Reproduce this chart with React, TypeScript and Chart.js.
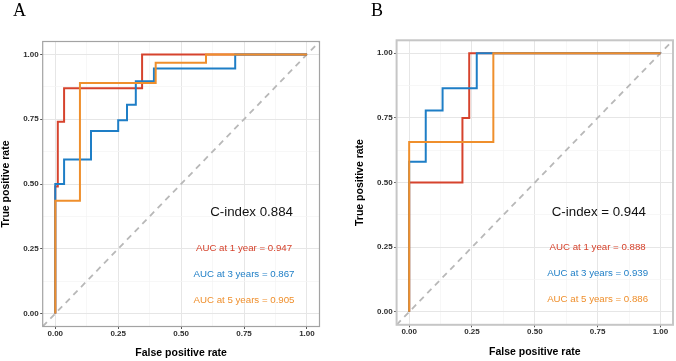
import React, { useEffect, useRef } from "react";
import { Chart, registerables } from "chart.js";

Chart.register(...registerables);

// ---- data -------------------------------------------------------------
const AXIS_MIN = -0.05;
const AXIS_MAX = 1.05;
const MAJOR_TICKS = [0, 0.25, 0.5, 0.75, 1];
const MINOR_TICKS = [0.125, 0.375, 0.625, 0.875];
const SERIES_NAMES = ["1 year", "3 years", "5 years"];
const LABEL_Y = [0.25, 0.15, 0.05];

// Panel A
const A_FPR_1Y = [0, 0, 0.01, 0.01, 0.035, 0.035, 0.345, 0.345, 1];
const A_TPR_1Y = [0, 0.49, 0.49, 0.74, 0.74, 0.87, 0.87, 1, 1];
const A_FPR_3Y = [0, 0, 0.035, 0.035, 0.142, 0.142, 0.25, 0.25, 0.285, 0.285, 0.32, 0.32, 0.392, 0.392, 0.715, 0.715, 1];
const A_TPR_3Y = [0, 0.5, 0.5, 0.595, 0.595, 0.705, 0.705, 0.746, 0.746, 0.806, 0.806, 0.897, 0.897, 0.946, 0.946, 1, 1];
const A_FPR_5Y = [0, 0, 0.098, 0.098, 0.399, 0.399, 0.599, 0.599, 1];
const A_TPR_5Y = [0, 0.435, 0.435, 0.89, 0.89, 0.968, 0.968, 1, 1];
const A_AUC = ["0.947", "0.867", "0.905"];
const A_CINDEX = "C-index 0.884";

// Panel B
const B_FPR_1Y = [0, 0, 0.212, 0.212, 0.239, 0.239, 1];
const B_TPR_1Y = [0, 0.5, 0.5, 0.75, 0.75, 1, 1];
const B_FPR_3Y = [0, 0, 0.066, 0.066, 0.133, 0.133, 0.269, 0.269, 1];
const B_TPR_3Y = [0, 0.58, 0.58, 0.779, 0.779, 0.865, 0.865, 1, 1];
const B_FPR_5Y = [0, 0, 0.335, 0.335, 1];
const B_TPR_5Y = [0, 0.657, 0.657, 1, 1];
const B_AUC = ["0.888", "0.939", "0.886"];
const B_CINDEX = "C-index = 0.944";

// ---- styling ------------------------------------------------------------
const COLORS = ["#D6432D", "#1E7EC6", "#EF8F2C"];
const SANS = "'Liberation Sans', Arial, Helvetica, sans-serif";
const SERIF = "'Liberation Serif', 'Times New Roman', serif";
const CANVAS_W = 338;
const CANVAS_H = 361;

type PanelSpec = {
  letter: string;
  letterX: number;
  letterBaseline: number;
  left: number;
  area: { left: number; right: number; top: number; bottom: number };
  yTitlePad: number;
  xTitlePad: number;
  borderColor: string;
  borderWidth: number;
  curves: { fpr: number[]; tpr: number[] }[];
  auc: string[];
  cindex: string;
  cindexX: number;
  cindexY: number;
};

const isMajor = (v: number) => Math.abs(v * 4 - Math.round(v * 4)) < 1e-6;
const allTicks = [...MAJOR_TICKS, ...MINOR_TICKS].sort((a, b) => a - b);

function axisOptions(spec: PanelSpec, horizontal: boolean) {
  return {
    type: "linear",
    min: AXIS_MIN,
    max: AXIS_MAX,
    afterBuildTicks: (scale: any) => {
      scale.ticks = allTicks.map((v) => ({ value: v }));
    },
    afterFit: (scale: any) => {
      if (horizontal) scale.height = CANVAS_H - spec.area.bottom;
      else scale.width = spec.area.left;
    },
    ticks: {
      autoSkip: false,
      maxRotation: 0,
      padding: horizontal ? 0.8 : 1.5,
      color: "#2E2E2E",
      font: { family: SANS, size: 8, weight: "bold", lineHeight: 1 },
      callback: (v: number) => (isMajor(v) ? v.toFixed(2) : ""),
    },
    grid: {
      drawTicks: true,
      tickLength: 2.5,
      tickWidth: 1,
      color: (ctx: any) => (isMajor(ctx.tick?.value ?? 0) ? "#E6E6E6" : "#F3F3F3"),
      lineWidth: (ctx: any) => (isMajor(ctx.tick?.value ?? 0) ? 1 : 0.7),
      tickColor: (ctx: any) => (isMajor(ctx.tick?.value ?? 0) ? "#555555" : "rgba(0,0,0,0)"),
    },
    border: { display: false },
    title: {
      display: true,
      text: horizontal ? "False positive rate" : "True positive rate",
      color: "#000000",
      font: { family: SANS, size: 10.5, weight: "bold", lineHeight: 1.2 },
      padding: horizontal ? { top: 0, bottom: spec.xTitlePad } : { top: spec.yTitlePad, bottom: 0 },
    },
  };
}

function panelDecor(spec: PanelSpec) {
  return {
    id: "panelDecor" + spec.letter,
    afterDatasetsDraw(chart: any) {
      const { ctx, chartArea, scales } = chart;
      ctx.save();
      // panel frame
      ctx.strokeStyle = spec.borderColor;
      ctx.lineWidth = spec.borderWidth;
      ctx.strokeRect(chartArea.left, chartArea.top, chartArea.right - chartArea.left, chartArea.bottom - chartArea.top);

      // C-index and AUC annotations
      ctx.textAlign = "center";
      ctx.textBaseline = "middle";
      ctx.fillStyle = "#111111";
      ctx.font = `13.3px ${SANS}`;
      ctx.fillText(spec.cindex, scales.x.getPixelForValue(spec.cindexX), scales.y.getPixelForValue(spec.cindexY));
      ctx.font = `9.7px ${SANS}`;
      SERIES_NAMES.forEach((name, i) => {
        ctx.fillStyle = COLORS[i];
        ctx.fillText(
          `AUC at ${name} = ${spec.auc[i]}`,
          scales.x.getPixelForValue(0.75),
          scales.y.getPixelForValue(LABEL_Y[i])
        );
      });

      // panel letter
      ctx.textAlign = "left";
      ctx.textBaseline = "alphabetic";
      ctx.fillStyle = "#000000";
      ctx.font = `18px ${SERIF}`;
      ctx.fillText(spec.letter, spec.letterX, spec.letterBaseline);
      ctx.restore();
    },
  };
}

function buildConfig(spec: PanelSpec): any {
  const curveSets = spec.curves.map((c, i) => ({
    label: SERIES_NAMES[i],
    data: c.fpr.map((x, k) => ({ x, y: c.tpr[k] })),
    showLine: true,
    borderColor: COLORS[i],
    backgroundColor: COLORS[i],
    borderWidth: 2,
    pointRadius: 0,
    fill: false,
    tension: 0,
    borderJoinStyle: "miter",
    order: 3 - i,
  }));
  const diagonal = {
    label: "reference",
    data: [
      { x: AXIS_MIN, y: AXIS_MIN },
      { x: AXIS_MAX, y: AXIS_MAX },
    ],
    showLine: true,
    borderColor: "#B8B8B8",
    borderWidth: 1.8,
    borderDash: [6, 5],
    pointRadius: 0,
    fill: false,
    order: 10,
  };
  return {
    type: "scatter",
    data: { datasets: [...curveSets, diagonal] },
    options: {
      responsive: false,
      animation: false,
      devicePixelRatio: 1,
      layout: {
        padding: {
          left: 0,
          top: spec.area.top,
          right: CANVAS_W - spec.area.right,
          bottom: 0,
        },
      },
      plugins: { legend: { display: false }, tooltip: { enabled: false } },
      scales: {
        x: { ...axisOptions(spec, true), position: "bottom" },
        y: { ...axisOptions(spec, false), position: "left" },
      },
    },
    plugins: [panelDecor(spec)],
  };
}

const PANEL_A: PanelSpec = {
  letter: "A",
  letterX: 13,
  letterBaseline: 15.7,
  left: 0,
  area: { left: 42.7, right: 319.5, top: 41.5, bottom: 326.5 },
  yTitlePad: 0.2,
  xTitlePad: 1.2,
  borderColor: "#A3A3A3",
  borderWidth: 1.2,
  curves: [
    { fpr: A_FPR_1Y, tpr: A_TPR_1Y },
    { fpr: A_FPR_3Y, tpr: A_TPR_3Y },
    { fpr: A_FPR_5Y, tpr: A_TPR_5Y },
  ],
  auc: A_AUC,
  cindex: A_CINDEX,
  cindexX: 0.78,
  cindexY: 0.389,
};

const PANEL_B: PanelSpec = {
  letter: "B",
  letterX: 33,
  letterBaseline: 15.5,
  left: 338,
  area: { left: 58.6, right: 335, top: 40.3, bottom: 324.8 },
  yTitlePad: 16,
  xTitlePad: 2.1,
  borderColor: "#C6C6C6",
  borderWidth: 2,
  curves: [
    { fpr: B_FPR_1Y, tpr: B_TPR_1Y },
    { fpr: B_FPR_3Y, tpr: B_TPR_3Y },
    { fpr: B_FPR_5Y, tpr: B_TPR_5Y },
  ],
  auc: B_AUC,
  cindex: B_CINDEX,
  cindexX: 0.755,
  cindexY: 0.384,
};

function RocPanel({ spec }: { spec: PanelSpec }) {
  const ref = useRef<HTMLCanvasElement | null>(null);
  useEffect(() => {
    if (!ref.current) return;
    const chart = new Chart(ref.current, buildConfig(spec));
    return () => chart.destroy();
  }, [spec]);
  return (
    <canvas
      ref={ref}
      width={CANVAS_W}
      height={CANVAS_H}
      style={{ position: "absolute", left: spec.left, top: 0, width: CANVAS_W, height: CANVAS_H }}
    />
  );
}

export default function App() {
  return (
    <div
      style={{
        position: "fixed",
        left: 0,
        top: 0,
        width: 676,
        height: 361,
        background: "#FFFFFF",
        overflow: "hidden",
      }}
    >
      <RocPanel spec={PANEL_A} />
      <RocPanel spec={PANEL_B} />
    </div>
  );
}
